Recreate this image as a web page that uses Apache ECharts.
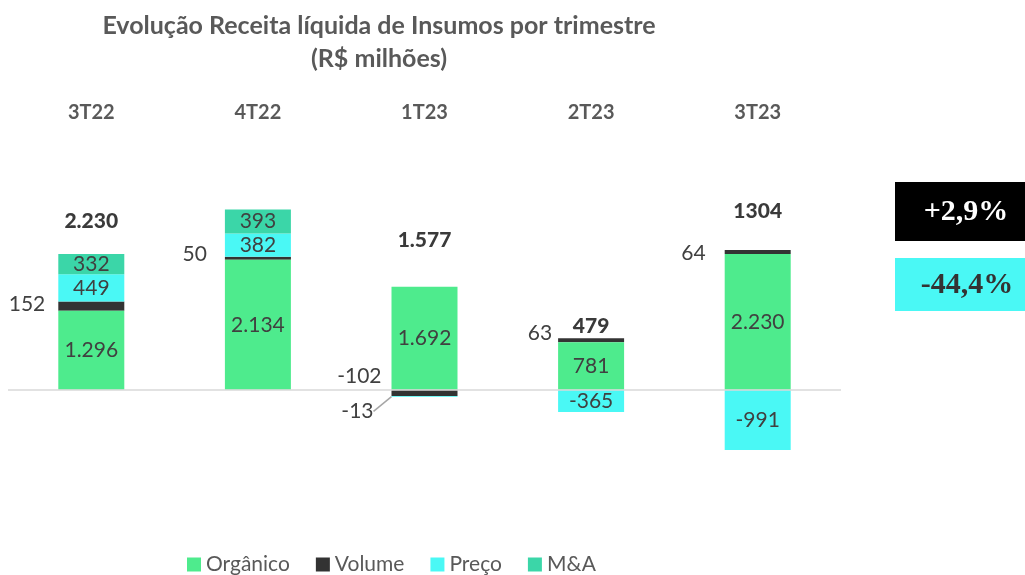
<!DOCTYPE html>
<html>
<head>
<meta charset="utf-8">
<script src="https://cdn.jsdelivr.net/npm/echarts@6/dist/echarts.min.js"></script>
<style>
html,body{margin:0;padding:0;background:#fff;}
#chart{width:1025px;height:575px;}
</style>
</head>
<body>
<div id="chart"></div>
<script>
// ---- Data ----
const categories = ['3T22', '4T22', '1T23', '2T23', '3T23'];
const organico = [1296, 2134, 1692, 781, 2230];
const volume = [152, 50, -102, 63, 64];
const preco = [449, 382, -13, -365, -991];
const ma = [332, 393, null, null, null];
const totalLabels = ['2.230', '', '1.577', '479', '1304'];
const growthLabels = ['+2,9%', '-44,4%'];
const titleText = 'Evolução Receita líquida de Insumos por trimestre\n(R$ milhões)';

// ---- Styling ----
const C_ORG = '#4EEB8D', C_VOL = '#333333', C_PRE = '#4AF8F5', C_MA = '#3BD6A8';
const FONT = 'Lato';
const LABEL_COLOR = '#404040';

function fmt(v) {
  if (v === null || v === undefined) return '';
  return String(v).replace(/\B(?=(\d{3})+(?!\d))/g, '.');
}

// positive stack top per category (for placing total labels above the bars)
const stackTop = categories.map((_, i) =>
  [organico, volume, preco, ma].reduce((s, arr) => s + (arr[i] > 0 ? arr[i] : 0), 0));

const volLabelCfg = [
  {distance: 13, offset: [0, -1.5]},
  {distance: 18, offset: [0, -4]},
  {distance: 10, offset: [0, -17]},
  {distance: 6, offset: [0, -7]},
  {distance: 19, offset: [0, 1.5]}
];
const totalOffsets = [[0, -33], [0, 0], [0, -46], [0, -12], [0, -39]];

const valueLabel = {
  show: true, position: 'inside', color: LABEL_COLOR, fontFamily: FONT, fontSize: 21,
  formatter: p => fmt(p.value)
};

const totalLabelStyle = {
  show: true, position: 'inside', color: '#3a3a3a', fontFamily: FONT, fontSize: 21,
  fontWeight: 900, formatter: p => totalLabels[p.dataIndex]
};

const chart = echarts.init(document.getElementById('chart'), null, {renderer: 'canvas'});

chart.setOption({
  backgroundColor: '#ffffff',
  animation: false,
  title: {
    text: titleText, left: 374, top: 4, textAlign: 'center',
    textStyle: {fontFamily: FONT, fontSize: 25, fontWeight: 'bold', color: '#595959', lineHeight: 33}
  },
  legend: {
    data: ['Orgânico', 'Volume', 'Preço', 'M&A'],
    left: 182, top: 549, icon: 'rect', itemWidth: 14, itemHeight: 14, itemGap: 26,
    textStyle: {fontFamily: FONT, fontSize: 21, color: '#595959'}
  },
  grid: {left: 8, right: 184, top: 128, bottom: 94},
  xAxis: {
    type: 'category', data: categories, position: 'top',
    axisLine: {show: false}, axisTick: {show: false},
    axisLabel: {fontFamily: FONT, fontSize: 20, fontWeight: 'bold', color: '#595959', margin: 5}
  },
  yAxis: {type: 'value', min: -1500, max: 4300, show: false},
  series: [
    {
      name: 'Orgânico', type: 'bar', stack: 'total', barWidth: 66,
      itemStyle: {color: C_ORG}, label: valueLabel, data: organico,
      markLine: {
        silent: true, symbol: 'none', label: {show: false},
        lineStyle: {color: '#d9d9d9', width: 1.5, type: 'solid'},
        data: [{yAxis: 0}]
      },
      z: 3
    },
    {
      name: 'Volume', type: 'bar', stack: 'total', barWidth: 66,
      itemStyle: {color: C_VOL},
      label: {show: true, position: 'left', color: LABEL_COLOR, fontFamily: FONT, fontSize: 21,
              formatter: p => fmt(p.value)},
      data: volume.map((v, i) => ({value: v, label: volLabelCfg[i]}))
    },
    {
      name: 'Preço', type: 'bar', stack: 'total', barWidth: 66,
      itemStyle: {color: C_PRE}, label: valueLabel,
      labelLine: {show: false, lineStyle: {color: '#a6a6a6', width: 1.5}},
      labelLayout: function (params) {
        if (params.dataIndex === 2) return {dy: 15};
        return {};
      },
      data: preco.map((v, i) => i === 2
        ? {value: v, label: {position: 'left', distance: 18}, labelLine: {show: true, lineStyle: {color: '#a6a6a6', width: 1.5}}}
        : v)
    },
    {
      name: 'M&A', type: 'bar', stack: 'total', barWidth: 66,
      itemStyle: {color: C_MA}, label: valueLabel, data: ma
    },
    {
      name: 'Total', type: 'scatter', symbolSize: 0, silent: true,
      itemStyle: {opacity: 1},
      label: totalLabelStyle,
      data: stackTop.map((v, i) => totalLabels[i]
        ? {value: v, label: Object.assign({}, totalLabelStyle, {offset: totalOffsets[i]})}
        : null)
    }
  ],
  graphic: [
    {type: 'rect', left: 895, top: 182, shape: {width: 130, height: 59}, style: {fill: '#000000'}},
    {type: 'text', x: 966, y: 212, style: {text: growthLabels[0], fill: '#ffffff',
      font: 'bold 30px "Liberation Serif", serif', textAlign: 'center', textVerticalAlign: 'middle'}},
    {type: 'rect', left: 895, top: 258, shape: {width: 130, height: 53}, style: {fill: C_PRE}},
    {type: 'text', x: 967, y: 285, style: {text: growthLabels[1], fill: '#333333',
      font: 'bold 30px "Liberation Serif", serif', textAlign: 'center', textVerticalAlign: 'middle'}}
  ]
});
</script>
</body>
</html>
